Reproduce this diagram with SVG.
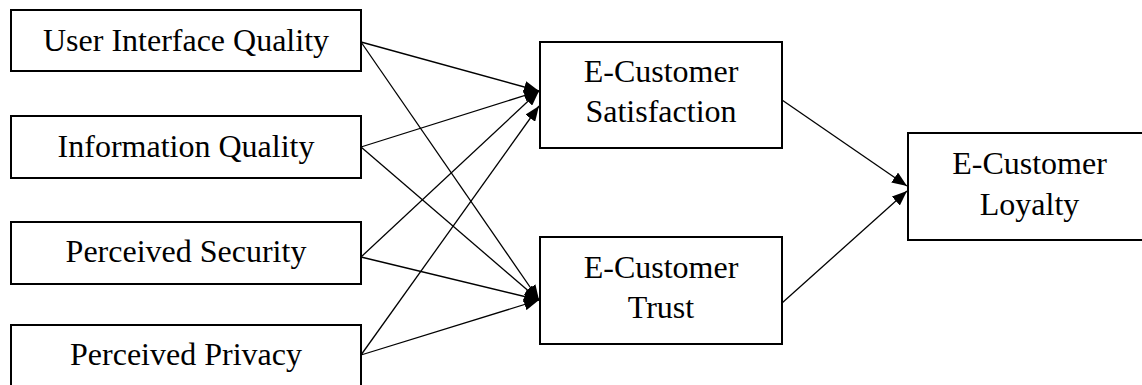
<svg xmlns="http://www.w3.org/2000/svg" width="1142" height="385" viewBox="0 0 1142 385">
<style>
.box{fill:#fff;stroke:#000;stroke-width:2}
.lbl{font-family:"Liberation Serif","Times New Roman",serif;font-size:32px;fill:#000;text-anchor:middle}
.con line{stroke:#000;stroke-width:1.3;marker-end:url(#ah)}
</style>
<defs>
<marker id="ah" markerUnits="userSpaceOnUse" viewBox="0 0 15 12" refX="15" refY="6" markerWidth="15" markerHeight="12" orient="auto">
<path d="M0,0 L15,6 L0,12 Z" fill="#000"/>
</marker>
</defs>
<rect width="1142" height="385" fill="#fff"/>
<g id="connectors" class="con">
<line x1="361" y1="42" x2="539" y2="91"/>
<line x1="361" y1="147" x2="539" y2="91"/>
<line x1="361" y1="257" x2="539" y2="91"/>
<line x1="361" y1="355" x2="539" y2="106"/>
<line x1="361" y1="42" x2="539" y2="300"/>
<line x1="361" y1="147" x2="539" y2="300"/>
<line x1="361" y1="257" x2="539" y2="300"/>
<line x1="361" y1="355" x2="539" y2="300"/>
<line x1="782" y1="100" x2="907" y2="186"/>
<line x1="782" y1="303" x2="907" y2="191"/>
</g>
<g id="uiq"><rect class="box" x="11" y="10" width="350" height="61"/><text class="lbl" x="186" y="51">User Interface Quality</text></g>
<g id="iq"><rect class="box" x="11" y="116" width="350" height="62"/><text class="lbl" x="186" y="157">Information Quality</text></g>
<g id="ps"><rect class="box" x="11" y="222" width="350" height="62"/><text class="lbl" x="186" y="262">Perceived Security</text></g>
<g id="pp"><rect class="box" x="11" y="325" width="350" height="62"/><text class="lbl" x="186" y="365">Perceived Privacy</text></g>
<g id="sat"><rect class="box" x="540" y="42" width="242" height="106"/><text class="lbl" x="661" y="82">E-Customer</text><text class="lbl" x="661" y="122">Satisfaction</text></g>
<g id="trust"><rect class="box" x="540" y="237" width="242" height="107"/><text class="lbl" x="661" y="278">E-Customer</text><text class="lbl" x="661" y="318">Trust</text></g>
<g id="loyalty"><rect class="box" x="908" y="133" width="243" height="107"/><text class="lbl" x="1029.5" y="174">E-Customer</text><text class="lbl" x="1029.5" y="215">Loyalty</text></g>
</svg>
